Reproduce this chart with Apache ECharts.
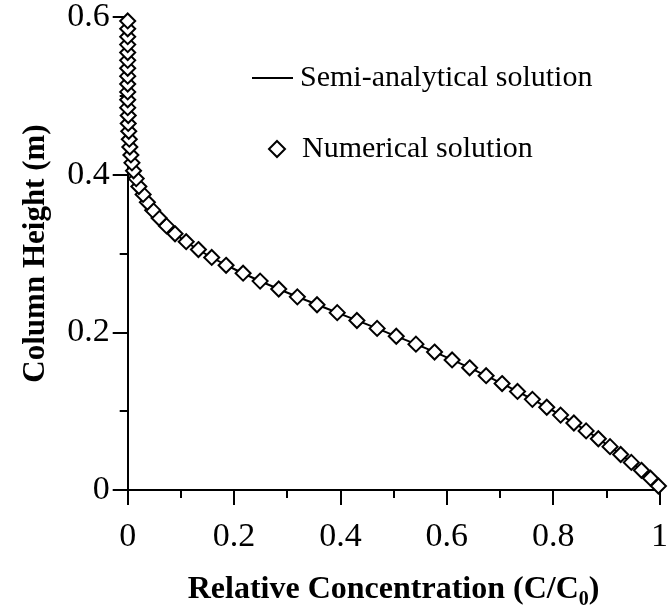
<!DOCTYPE html>
<html>
<head>
<meta charset="utf-8">
<script src="https://cdn.jsdelivr.net/npm/echarts@6/dist/echarts.min.js"></script>
<style>
html,body{margin:0;padding:0;background:#fff;}
#chart{width:671px;height:615px;}
</style>
</head>
<body>
<div id="chart"></div>
<script>
// Numerical solution (diamonds): column height (m) and relative concentration C/C0
var numHeights = [0.005,0.015,0.025,0.035,0.045,0.055,0.065,0.075,0.085,0.095,
  0.105,0.115,0.125,0.135,0.145,0.155,0.165,0.175,0.185,0.195,
  0.205,0.215,0.225,0.235,0.245,0.255,0.265,0.275,0.285,0.295,
  0.305,0.315,0.325,0.335,0.345,0.355,0.365,0.375,0.385,0.395,
  0.405,0.415,0.425,0.435,0.445,0.455,0.465,0.475,0.485,0.495,
  0.505,0.515,0.525,0.535,0.545,0.555,0.565,0.575,0.585,0.595];
var numConc = [0.998,0.983,0.966,0.947,0.927,0.907,0.885,0.862,0.839,0.814,
  0.788,0.761,0.733,0.704,0.674,0.643,0.610,0.577,0.542,0.505,
  0.469,0.431,0.394,0.356,0.319,0.284,0.249,0.217,0.185,0.158,
  0.133,0.110,0.089,0.073,0.059,0.047,0.037,0.029,0.021,0.016,
  0.011,0.008,0.006,0.004,0.003,0.002,0.001,0.001,0.000,0.000,
  0.000,0.000,0.000,0.000,0.000,0.000,0.000,0.000,0.000,0.000];

// Semi-analytical solution (solid line)
var semiHeights = [0.00,0.02,0.04,0.06,0.08,0.10,0.12,0.14,0.16,0.18,
  0.20,0.22,0.24,0.26,0.28,0.30,0.32,0.34,0.36,0.38,0.40,0.42,0.44,0.47,0.50,0.60];
var semiConc = [1.000,0.975,0.937,0.896,0.851,0.801,0.747,0.689,0.627,0.560,
  0.487,0.413,0.338,0.266,0.201,0.145,0.099,0.066,0.042,0.025,0.013,0.007,0.003,0.001,0.000,0.000];

var xTicks = [0, 0.2, 0.4, 0.6, 0.8, 1];
var yTicks = [0, 0.2, 0.4, 0.6];

var seriesNames = ['Semi-analytical solution', 'Numerical solution'];
var xTitle = 'Relative Concentration (C/C';
var xTitleSub = '0';
var yTitle = 'Column Height (m)';

var semiData = semiConc.map(function (c, i) { return [c, semiHeights[i]]; });
var numData = numConc.map(function (c, i) { return [c, numHeights[i]]; });

var FONT = '"Liberation Serif","Times New Roman",serif';
var chart = echarts.init(document.getElementById('chart'), null, {renderer: 'canvas'});

var axisCommon = {
  axisLine: {show: true, onZero: false, lineStyle: {color: '#000', width: 2}},
  axisTick: {show: true, inside: false, length: 15, lineStyle: {color: '#000', width: 2}},
  minorTick: {show: true, splitNumber: 2, length: 8, lineStyle: {color: '#000', width: 2}},
  splitLine: {show: false},
  minorSplitLine: {show: false}
};

chart.setOption({
  animation: false,
  backgroundColor: '#fff',
  grid: {left: 127.7, right: 6, top: 17, bottom: 118, containLabel: false},
  legend: [
    {
      data: [{name: seriesNames[0], icon: 'rect'}],
      left: 247, top: 58,
      itemWidth: 41, itemHeight: 2,
      itemStyle: {color: '#000'},
      textStyle: {fontFamily: FONT, fontSize: 30, color: '#000', padding: [0, 0, 0, 2]},
      selectedMode: false
    },
    {
      data: [{name: seriesNames[1], icon: 'diamond'}],
      left: 263, top: 129,
      itemWidth: 16, itemHeight: 16,
      itemStyle: {color: '#fff', borderColor: '#000', borderWidth: 2},
      textStyle: {fontFamily: FONT, fontSize: 30, color: '#000', padding: [0, 0, 0, 12]},
      selectedMode: false
    }
  ],
  xAxis: Object.assign({
    type: 'value', min: xTicks[0], max: xTicks[xTicks.length - 1], interval: 0.2,
    axisLabel: {fontFamily: FONT, fontSize: 34, color: '#000', margin: 30,
      formatter: function (v) { return String(+v.toFixed(1)); }},
    name: '{a|' + xTitle + '}{s|' + xTitleSub + '}{a|)}',
    nameLocation: 'middle', nameGap: 80,
    nameTextStyle: {
      rich: {
        a: {fontFamily: FONT, fontSize: 32, fontWeight: 'bold', color: '#000', lineHeight: 36, verticalAlign: 'bottom'},
        s: {fontFamily: FONT, fontSize: 20, fontWeight: 'bold', color: '#000', lineHeight: 20, verticalAlign: 'bottom', padding: [0, 0, -4, 0]}
      }
    }
  }, axisCommon),
  yAxis: Object.assign({
    type: 'value', min: yTicks[0], max: yTicks[yTicks.length - 1], interval: 0.2,
    axisLabel: {fontFamily: FONT, fontSize: 34, color: '#000', margin: 18,
      formatter: function (v) { return String(+v.toFixed(1)); }},
    name: yTitle, nameLocation: 'middle', nameGap: 76, nameRotate: 90,
    nameTextStyle: {fontFamily: FONT, fontSize: 31, fontWeight: 'bold', color: '#000'}
  }, axisCommon),
  series: [
    {
      name: seriesNames[0], type: 'line', data: semiData,
      symbol: 'none', smooth: 0.3, z: 2,
      lineStyle: {color: '#000', width: 2},
      itemStyle: {color: '#000'}
    },
    {
      name: seriesNames[1], type: 'scatter', data: numData,
      symbol: 'diamond', symbolSize: 15, z: 3,
      itemStyle: {color: '#fff', borderColor: '#000', borderWidth: 2, opacity: 1}
    }
  ]
});
</script>
</body>
</html>
